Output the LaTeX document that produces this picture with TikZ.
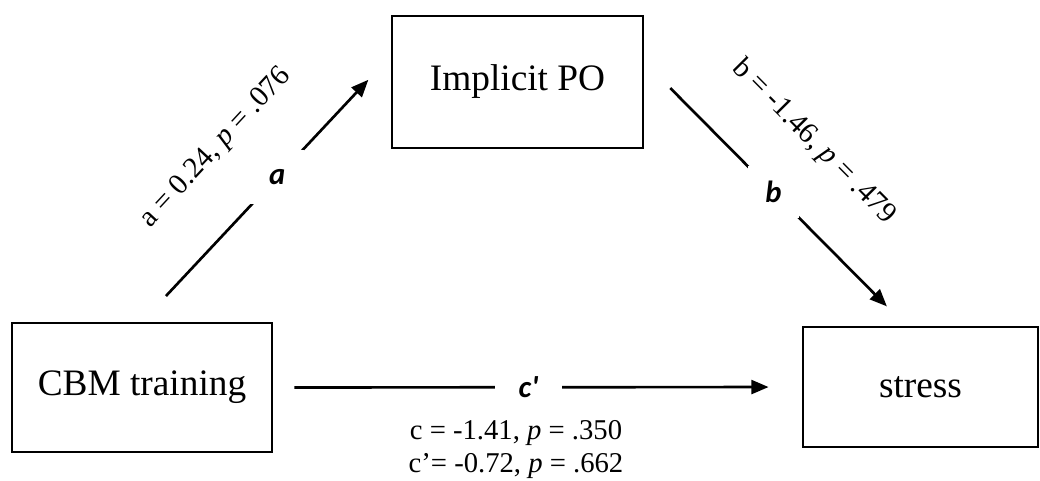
\documentclass[tikz,border=0pt]{standalone}
\usepackage{fontspec}
\setmainfont{Liberation Serif}
\newfontfamily\pathfont{Carlito}
\usetikzlibrary{arrows.meta}

\begin{document}
\begin{tikzpicture}[
  x=0.75pt, y=-0.75pt,
  font=\fontsize{28}{32}\selectfont,
  box/.style={draw=black, line width=2.1pt, align=center, inner sep=3pt},
  wire/.style={line width=2pt, color=black},
  arr/.style={wire, -{Triangle[length=13pt, width=10.5pt]}},
  gap/.style={fill=white, inner sep=0pt,
              font=\pathfont\bfseries\itshape\fontsize{23}{26}\selectfont},
  stat/.style={inner sep=0pt, font=\rmfamily\fontsize{22}{25}\selectfont}
]
\useasboundingbox (0,0) rectangle (1040,480);
% the three variables
\node[box, minimum width=195pt, minimum height=96.75pt] (cbm) at (142,387.5) {CBM training};
\node[box, minimum width=188.25pt, minimum height=99pt] (ipo) at (517.5,82) {Implicit PO};
\node[box, minimum width=176.25pt, minimum height=90pt] (stress) at (920.5,387) {stress};
% paths a, b and c'
\draw[arr, shorten <=26.3pt, shorten >=24.4pt] (cbm.north) -- ([yshift=19.5pt]ipo.west)
  node[gap, pos=0.544, minimum size=40.4pt] (alab) {a};
\draw[arr, shorten <=27.6pt, shorten >=20.3pt] ([yshift=15pt]ipo.east) -- ([xshift=-10.9pt]stress.north)
  node[gap, pos=0.493, minimum size=38.7pt] (blab) {b};
\draw[arr, shorten <=15.75pt, shorten >=24.75pt] (cbm.east) -- (stress.west)
  node[gap, pos=0.483, minimum width=50pt, minimum height=22pt] (clab) {c\textquotesingle};
% coefficients
\node[stat, rotate=47.1] (astat) at (216,148) {a = 0.24, \textit{p} = .076};
\node[stat, rotate=-45.2] (bstat) at (814,142) {b = -1.46, \textit{p} = .479};
\node[stat, align=center, font=\fontsize{21.5}{24.75}\selectfont] (cstat) at (516,449.5)
  {c = -1.41, \textit{p} = .350\\c’= -0.72, \textit{p} = .662};
\end{tikzpicture}
\end{document}
